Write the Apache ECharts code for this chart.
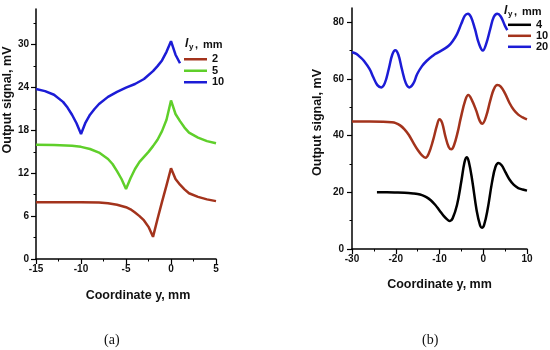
<!DOCTYPE html>
<html><head><meta charset="utf-8">
<script src="https://cdn.jsdelivr.net/npm/echarts@6/dist/echarts.min.js"></script>
<style>html,body{margin:0;padding:0;background:#fff}#c{width:550px;height:350px}</style>
</head><body><div id="c"></div>
<script>
// ---------- panel (a) ----------
const aNames = ['2', '5', '10'];
const aX2 = [-15,-12,-10,-8,-7,-6,-5,-4.5,-4,-3.5,-3,-2.5,-2,-1.5,-1,-0.5,0,0.5,1,1.5,2,3,4,5];
const aY2 = [7.95,7.95,7.95,7.9,7.8,7.6,7.25,6.95,6.5,6.0,5.4,4.5,3.1,5.6,8.0,10.3,12.7,11.2,10.4,9.75,9.2,8.7,8.35,8.1];
const aX5 = [-15,-13,-11,-10,-9,-8,-7,-6.5,-6,-5.5,-5,-4.5,-4,-3.5,-3,-2.5,-2,-1.5,-1,-0.5,0,0.5,1,1.5,2,3,4,5];
const aY5 = [16.0,15.95,15.85,15.7,15.4,14.9,14.0,13.3,12.3,11.2,9.8,11.3,12.6,13.6,14.3,15.0,15.8,16.7,17.9,19.5,22.2,20.3,19.3,18.4,17.7,17.0,16.5,16.2];
const aX10 = [-15,-14,-13,-12,-11.5,-11,-10.5,-10,-9.5,-9,-8.5,-8,-7,-6,-5,-4,-3,-2,-1.5,-1,-0.5,0,0.5,1];
const aY10 = [23.8,23.5,23.0,22.0,21.2,20.2,19.0,17.5,19.1,20.2,21.0,21.7,22.7,23.4,24.0,24.5,25.2,26.3,27.0,27.8,29.0,30.5,28.6,27.4];
const aXTicks = [-15,-10,-5,0,5];
const aYTicks = [0,6,12,18,24,30];

// ---------- panel (b) ----------
const bNames = ['4', '10 ', '20'];
const bX4 = [-24.3,-22,-20,-18,-16,-15,-14,-13,-12,-11,-10,-9,-8,-7.6,-7,-6,-5,-4.3,-3.8,-3.3,-2.5,-1.5,-0.7,-0.3,0.2,1,2,2.8,3.5,4.2,5,6,7,8,9,10];
const bY4 = [20.0,20.0,19.95,19.85,19.6,19.4,19.0,18.3,17.2,15.6,13.6,11.6,10.1,9.9,10.8,15.5,24.0,30.5,32.4,30.8,24.0,13.5,8.2,7.5,8.5,14.0,23.5,29.0,30.3,29.5,27.3,24.5,22.6,21.5,21.0,20.6];
const bX10 = [-30,-26,-23,-21,-20,-19,-18,-17,-16,-15,-14,-13.2,-12.5,-11.5,-10.6,-10,-9.4,-8.7,-7.9,-7.3,-6.7,-5.8,-5.2,-4.1,-3.4,-2.6,-1.6,-0.8,-0.2,0.6,1.6,2.4,3.2,4,5,6,7,8,9,10];
const bY10 = [45.0,45.0,44.9,44.7,44.4,43.6,42.2,40.2,37.5,35.0,33.0,32.2,33.5,38.2,43.5,45.8,44.5,40.0,36.0,35.2,36.5,41.5,45.8,52.5,54.3,52.5,48.8,45.2,44.2,46.5,52.3,56.3,57.8,57.3,54.8,51.5,49.0,47.4,46.4,45.7];
const bX20 = [-30,-29,-28,-27.3,-26,-25.1,-24.2,-23.3,-22.5,-21.6,-20.8,-20.1,-19.4,-18.6,-17.7,-16.9,-16,-15.1,-14,-12.9,-11.5,-10.6,-9,-7.9,-7,-6,-5,-4.2,-3.5,-2.8,-1.9,-1,-0.1,0.7,1.6,2.4,3.2,4,5,5.5];
const bY20 = [69.4,68.8,67.5,66.4,63.5,60.5,57.8,57.0,58.5,63.5,68.5,70.1,68.5,63.5,58.5,57.0,58.3,61.7,64.5,66.4,68.2,69.1,70.5,71.7,73.3,75.8,79.5,82.3,83.0,81.8,77.6,72.5,70.0,72.5,77.6,81.8,83.0,82.0,78.6,77.2];
const bXTicks = [-30,-20,-10,0,10];
const bYTicks = [0,20,40,60,80];

const C_BROWN = '#a3331c', C_GREEN = '#5fcf2a', C_BLUE = '#1c1cd6', C_BLACK = '#000000';
const FONT = 'Liberation Sans, Arial, sans-serif';

function zip(xs, ys) { return xs.map((x, i) => [x, ys[i]]); }

function axisCommon(ticks) {
  return {
    axisLine: { show: true, onZero: false, lineStyle: { color: '#000', width: 1.5 } },
    axisTick: { show: true, inside: false, length: 5, customValues: ticks, lineStyle: { color: '#000', width: 1.2 } },
    minorTick: { show: true, splitNumber: 2, length: 2.5, lineStyle: { color: '#000', width: 1 } },
    splitLine: { show: false },
    nameTextStyle: { fontFamily: FONT, fontWeight: 'bold', fontSize: 12.5, color: '#111' }
  };
}

function xAx(gi, min, max, interval, ticks, padLeft, gap) {
  const a = axisCommon(ticks);
  return Object.assign(a, {
    type: 'value', gridIndex: gi, min, max, interval,
    name: 'Coordinate y, mm', nameLocation: 'middle', nameGap: gap,
    nameTextStyle: Object.assign({}, a.nameTextStyle, { padding: [0, 0, 0, padLeft] }),
    axisLabel: { customValues: ticks, fontFamily: FONT, fontWeight: 'bold', fontSize: 10, color: '#111', margin: 5 }
  });
}
function yAx(gi, min, max, interval, ticks, gap, padLeft, margin) {
  const a = axisCommon(ticks);
  return Object.assign(a, {
    type: 'value', gridIndex: gi, min, max, interval,
    name: 'Output signal, mV', nameLocation: 'middle', nameGap: gap, nameRotate: 90,
    nameTextStyle: Object.assign({}, a.nameTextStyle, { padding: [0, 0, 0, padLeft] }),
    axisLabel: { customValues: ticks, fontFamily: FONT, fontWeight: 'bold', fontSize: 10, color: '#111', margin }
  });
}

function line(name, xi, yi, xs, ys, color, smooth) {
  return { type: 'line', name, xAxisIndex: xi, yAxisIndex: yi, data: zip(xs, ys), showSymbol: false, symbol: 'none',
    smooth, lineStyle: { color, width: 2.5 }, itemStyle: { color }, animation: false };
}

function legend(names, left, top, lh) {
  return { data: names, left, top, orient: 'vertical', padding: 0, itemGap: 0, itemWidth: 23, itemHeight: 2.5,
    icon: 'rect', selectedMode: false,
    textStyle: { fontFamily: FONT, fontWeight: 'bold', fontSize: 11, color: '#111', lineHeight: lh } };
}

function lyTitle(x, y) {
  const st = { fontFamily: FONT, fontWeight: 'bold', fill: '#111' };
  return [
    { type: 'text', left: x, top: y - 7, style: Object.assign({}, st, { text: 'l', fontSize: 12, fontStyle: 'italic' }) },
    { type: 'text', left: x + 4, top: y - 2, style: Object.assign({}, st, { text: 'y', fontSize: 8 }) },
    { type: 'text', left: x + 10, top: y - 6, style: Object.assign({}, st, { text: ',', fontSize: 11 }) },
    { type: 'text', left: x + 18, top: y - 6, style: Object.assign({}, st, { text: 'mm', fontSize: 11 }) }
  ];
}

const chart = echarts.init(document.getElementById('c'), null, { renderer: 'canvas' });
chart.setOption({
  animation: false,
  backgroundColor: '#fff',
  grid: [
    { left: 35, top: 9, width: 181, height: 250 },
    { left: 352, top: 8, width: 175, height: 241 }
  ],
  xAxis: [
    xAx(0, -15, 5, 5, aXTicks, 24, 30),
    xAx(1, -30, 10, 10, bXTicks, 0, 29)
  ],
  yAxis: [
    yAx(0, 0, 35, 6, aYTicks, 17, 68, 7),
    yAx(1, 0, 85, 20, bYTicks, 28, 12, 8)
  ],
  legend: [
    legend(aNames, 184, 53.5, 11.5),
    legend(bNames, 508, 19.3, 10.7)
  ],
  series: [
    line('2', 0, 0, aX2, aY2, C_BROWN, false),
    line('5', 0, 0, aX5, aY5, C_GREEN, false),
    line('10', 0, 0, aX10, aY10, C_BLUE, false),
    line('4', 1, 1, bX4, bY4, C_BLACK, 0.4),
    line('10 ', 1, 1, bX10, bY10, C_BROWN, 0.4),
    line('20', 1, 1, bX20, bY20, C_BLUE, 0.4)
  ],
  graphic: [].concat(
    lyTitle(185, 45),
    lyTitle(504, 12),
    [
      { type: 'text', top: 333, left: 104, style: { text: '(a)', fontFamily: 'Liberation Serif, DejaVu Serif, serif', fontSize: 14, fill: '#111' } },
      { type: 'text', top: 333, left: 422, style: { text: '(b)', fontFamily: 'Liberation Serif, DejaVu Serif, serif', fontSize: 14, fill: '#111' } }
    ]
  )
});
</script></body></html>
